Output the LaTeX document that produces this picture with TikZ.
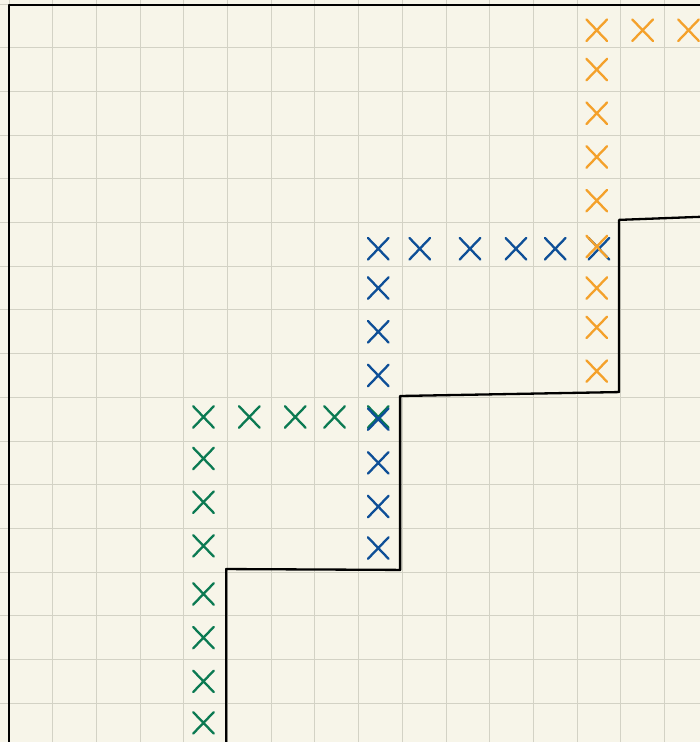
\documentclass[tikz,border=0pt]{standalone}
\usetikzlibrary{shapes.misc}
\definecolor{paper}{HTML}{F7F5E9}
\definecolor{gridc}{HTML}{D3D2C5}
\definecolor{xgreen}{HTML}{0B7A52}
\definecolor{xblue}{HTML}{0E4F97}
\definecolor{xorange}{HTML}{F4A12B}
\tikzset{
  xmk/.style={cross out, draw, line width=1.5pt, line cap=round, inner sep=0pt,
    minimum width=0.42cm, minimum height=0.44cm},
  gx/.style={xmk, draw=xgreen},
  bx/.style={xmk, draw=xblue},
  ox/.style={xmk, draw=xorange},
  wall/.style={line width=1.5pt, draw=black, line join=round},
  gridl/.style={draw=gridc, line width=0.6pt},
}

\begin{document}
\begin{tikzpicture}
  % paper and grid
  \fill[paper] (-0.206,0.092) rectangle (15.812,-16.888);
  \useasboundingbox (-0.206,0.092) rectangle (15.812,-16.888);
  \draw[gridl, step=1] (-0.206,-16.888) grid (15.812,0.092);
  % outer border
  \draw[wall] (0,-16.888) -- (0,-0.03) -- (15.812,-0.03);
  % staircase
  \coordinate (s0) at (4.97,-16.888);
  \coordinate (s1) at (4.97,-12.93);
  \coordinate (s2) at (8.95,-12.95);
  \coordinate (s3) at (8.95,-8.97);
  \coordinate (s4) at (13.96,-8.88);
  \coordinate (s5) at (13.96,-4.94);
  \coordinate (s6) at (15.812,-4.87);
  \draw[wall] (s0) -- (s1) -- (s2) -- (s3) -- (s4) -- (s5) -- (s6);
  % green marks
  \foreach \y [count=\i] in {9.45,10.4,11.4,12.4,13.5,14.5,15.5,16.45}
    \node[gx] (g\i) at (4.45,-\y) {};
  \foreach \x [count=\i] in {5.5,6.55,7.45,8.45}
    \node[gx] (gr\i) at (\x,-9.45) {};
  % blue marks
  \foreach \y [count=\i] in {5.6,6.5,7.5,8.5,9.5,10.5,11.5,12.45}
    \node[bx] (b\i) at (8.45,-\y) {};
  \foreach \x [count=\i] in {9.4,10.55,11.6,12.5,13.5}
    \node[bx] (br\i) at (\x,-5.6) {};
  % orange marks
  \foreach \y [count=\i] in {0.6,1.5,2.5,3.5,4.5,5.55,6.5,7.4,8.4}
    \node[ox] (o\i) at (13.45,-\y) {};
  \foreach \x [count=\i] in {14.5,15.55}
    \node[ox] (or\i) at (\x,-0.6) {};
\end{tikzpicture}
\end{document}
